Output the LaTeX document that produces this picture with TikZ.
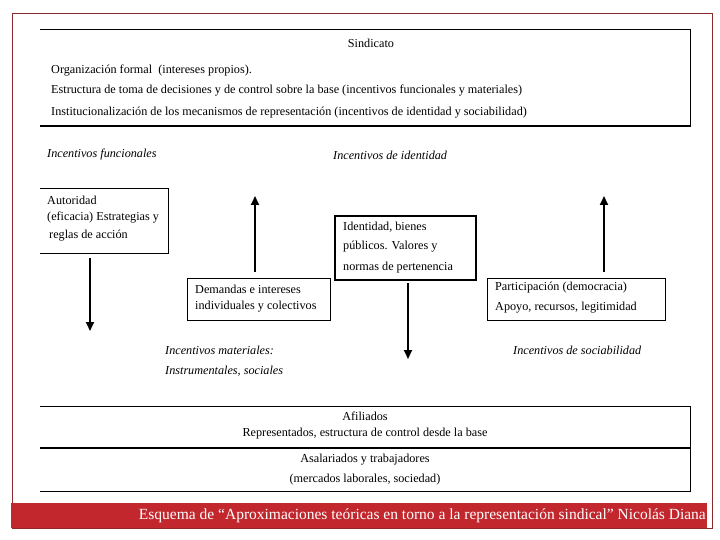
\documentclass[tikz,border=0pt]{standalone}
\usepackage{fontspec}
\setmainfont{Liberation Serif}
\usetikzlibrary{arrows.meta}
\definecolor{barred}{HTML}{C1272D}
\definecolor{framered}{HTML}{8E2A2E}
\tikzset{
  txt/.style={anchor=west,inner sep=0pt,font=\fontsize{12.2}{14}\selectfont},
  ctxt/.style={inner sep=0pt,font=\fontsize{12.2}{14}\selectfont},
  itxt/.style={txt,font=\fontsize{12.2}{14}\selectfont\itshape},
  up/.style={line width=1.8pt,-{Triangle[length=9pt,width=8pt]}},
}
\begin{document}
\begin{tikzpicture}[x=1pt,y=-1pt]
  \useasboundingbox (0,0) rectangle (720,540);
  \fill[white] (0,0) rectangle (720,540);
  \draw[framered,line width=0.8pt] (12,13) rectangle (712,528);
  % top block
  \draw[line width=0.6pt] (40,29) -- (690,29) -- (690,126);
  \draw[line width=2pt] (40,126) -- (691,126);
  \node[ctxt] (sind) at (371,43) {Sindicato};
  \node[txt] (org) at (51,71) {Organización formal\ \ (intereses propios).};
  \node[txt] (estr) at (51,91) {Estructura de toma de decisiones y de control sobre la base (incentivos funcionales y materiales)};
  \node[txt] (inst) at (51,113) {Institucionalización de los mecanismos de representación (incentivos de identidad y sociabilidad)};
  % incentive labels
  \node[itxt] (funcl) at (47,155) {Incentivos funcionales};
  \node[itxt] (identl) at (333,155) {Incentivos de identidad};
  \node[itxt] (matl) at (165,350) {Incentivos materiales:};
  \node[itxt] (instl) at (165,371) {Instrumentales, sociales};
  \node[itxt] (socl) at (513,350) {Incentivos de sociabilidad};
  % boxes
  \draw[line width=1pt] (40,189) -- (168,189) -- (168,253) -- (40,253);
  \node[txt] (aut) at (47,200) {Autoridad};
  \node[txt] (efi) at (47,218) {(eficacia) Estrategias y};
  \node[txt] (reg) at (49,236) {reglas de acción};
  \draw[line width=0.8pt] (187,278) rectangle (330,320);
  \node[txt] (dem) at (195,289) {Demandas e intereses};
  \node[txt] (ind) at (195,307) {individuales y colectivos};
  \draw[line width=1.6pt] (335,216) rectangle (476,280);
  \node[txt] (iden) at (343,227) {Identidad, bienes};
  \node[txt] (pub) at (343,247) {públicos. Valores y};
  \node[txt] (norm) at (343,268) {normas de pertenencia};
  \draw[line width=0.8pt] (487,278) rectangle (665,320);
  \node[txt] (part) at (495,288) {Participación (democracia)};
  \node[txt] (apoy) at (495,308) {Apoyo, recursos, legitimidad};
  % arrows
  \coordinate (a1s) at (90,258);  \coordinate (a1e) at (90,331);
  \coordinate (a2s) at (255,272); \coordinate (a2e) at (255,196);
  \coordinate (a3s) at (408,283); \coordinate (a3e) at (408,359);
  \coordinate (a4s) at (604,272); \coordinate (a4e) at (604,196);
  \draw[up] (a1s) -- (a1e);
  \draw[up] (a2s) -- (a2e);
  \draw[up] (a3s) -- (a3e);
  \draw[up] (a4s) -- (a4e);
  % bottom block
  \draw[line width=0.6pt] (40,406) -- (690,406) -- (690,491) -- (40,491);
  \draw[line width=2pt] (40,448) -- (690,448);
  \node[ctxt] (afil) at (365,416) {Afiliados};
  \node[ctxt] (repr) at (365,434) {Representados, estructura de control desde la base};
  \node[ctxt] (asal) at (365,460) {Asalariados y trabajadores};
  \node[ctxt] (merc) at (365,480) {(mercados laborales, sociedad)};
  % caption bar
  \fill[barred] (11,503) rectangle (707,528);
  \node[anchor=east,inner sep=0pt,text=white,font=\fontsize{15.5}{17}\selectfont] (cap) at (706,516)
    {Esquema de “Aproximaciones teóricas en torno a la representación sindical” Nicolás Diana};
\end{tikzpicture}
\end{document}
